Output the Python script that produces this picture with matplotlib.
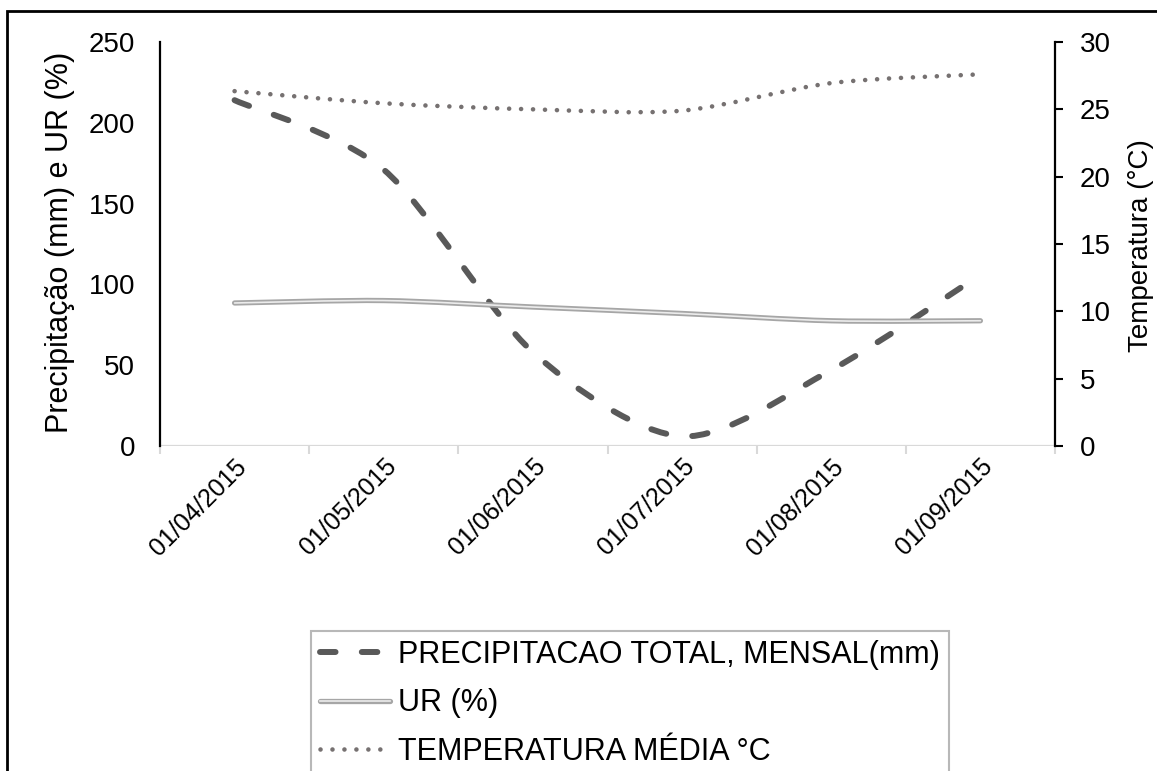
import matplotlib
matplotlib.use("Agg")
import matplotlib.pyplot as plt
import numpy as np
from matplotlib.path import Path
from matplotlib.patches import PathPatch, Rectangle
from matplotlib.lines import Line2D

plt.rcParams['font.family'] = ['Liberation Sans', 'DejaVu Sans']

# dados mensais
datas = ['01/04/2015', '01/05/2015', '01/06/2015', '01/07/2015', '01/08/2015', '01/09/2015']
precipitacao = [214, 171, 58, 6, 47, 106]        # mm
ur = [88.5, 90, 86, 82, 77.5, 77.5]                # %
temperatura = [26.35, 25.45, 25.0, 24.9, 26.95, 27.6]  # °C

cor_prec = '#595959'
cor_ur = '#a6a6a6'
cor_temp = '#767171'


def curva_suave(x, y, k=1 / 7):
    # linha suavizada (bezier passando pelos pontos)
    p = np.column_stack([x, y]).astype(float)
    n = len(p)
    verts = [p[0]]
    codes = [Path.MOVETO]
    for i in range(n - 1):
        p0 = p[i - 1] if i > 0 else p[i]
        p1 = p[i]
        p2 = p[i + 1]
        p3 = p[i + 2] if i + 2 < n else p[i + 1]
        verts += [p1 + (p2 - p0) * k, p2 - (p3 - p1) * k, p2]
        codes += [Path.CURVE4] * 3
    return Path(verts, codes)


fig = plt.figure(figsize=(11.57, 7.71), dpi=100)
ax = fig.add_axes([160 / 1157, 1 - 446 / 771, (1055 - 160) / 1157, (446 - 42) / 771])
ax2 = ax.twinx()

x = np.arange(len(datas))

# precipitacao tracejada
lw_p = 4.3
tracejado = (0, (2.6, 4.4))
ax.add_patch(PathPatch(curva_suave(x, precipitacao), fill=False, edgecolor=cor_prec, lw=lw_p,
                       linestyle=tracejado, capstyle='round', joinstyle='round'))

# UR linha dupla
ax.add_patch(PathPatch(curva_suave(x, ur), fill=False, edgecolor=cor_ur, lw=3.8,
                       capstyle='round', joinstyle='round'))
ax.add_patch(PathPatch(curva_suave(x, ur), fill=False, edgecolor='#ececec', lw=1.2,
                       capstyle='round', joinstyle='round'))

# temperatura pontilhada no eixo secundario
lw_t = 3.3
pontilhado = (0, (0.01, 2.6))
ax2.add_patch(PathPatch(curva_suave(x, temperatura), fill=False, edgecolor=cor_temp, lw=lw_t,
                        linestyle=pontilhado, capstyle='round'))

ax.set_xlim(-0.5, len(datas) - 0.5)
ax.set_ylim(0, 250)
ax2.set_ylim(0, 30)
ax.set_yticks([0, 50, 100, 150, 200, 250])
ax2.set_yticks([0, 5, 10, 15, 20, 25, 30])

ax.set_xticks(x)
ax.set_xticklabels(datas, rotation=45, ha='right', rotation_mode='anchor', fontsize=18)
ax.set_xticks(np.arange(-0.5, len(datas)), minor=True)
ax.tick_params(axis='x', which='major', length=0, pad=6)
ax.tick_params(axis='x', which='minor', length=6, width=1.5, color='#d9d9d9')
ax.tick_params(axis='y', length=0, pad=18, labelsize=20)
ax2.tick_params(axis='y', length=6, width=1.5, direction='out', pad=12, labelsize=20)

for a in (ax, ax2):
    a.spines['top'].set_visible(False)
    a.spines['bottom'].set_visible(False)
ax.spines['right'].set_visible(False)
ax.spines['left'].set_linewidth(1.6)
ax2.spines['left'].set_visible(False)
ax2.spines['right'].set_linewidth(1.6)
ax.axhline(0, color='#d9d9d9', lw=1.6, zorder=0)

fig.text(60 / 1157, 1 - 242 / 771, 'Precipitação (mm) e UR (%)', rotation=90,
         ha='center', va='center', fontsize=22)
fig.text(1141 / 1157, 1 - 246 / 771, 'Temperatura (°C)', rotation=90,
         ha='center', va='center', fontsize=20)

# legenda
handles = [
    Line2D([], [], color=cor_prec, lw=lw_p, linestyle=tracejado, dash_capstyle='round'),
    (Line2D([], [], color=cor_ur, lw=3.8, solid_capstyle='round'),
     Line2D([], [], color='#ececec', lw=1.2)),
    Line2D([], [], color=cor_temp, lw=lw_t, linestyle=pontilhado, dash_capstyle='round'),
]
labels = ['PRECIPITACAO TOTAL, MENSAL(mm)', 'UR (%)', 'TEMPERATURA MÉDIA °C']
leg = fig.legend(handles, labels, loc='upper left', bbox_to_anchor=(311 / 1157, 1 - 631 / 771),
                 fontsize=22, frameon=True, fancybox=False, borderaxespad=0, borderpad=0.3,
                 labelspacing=0.6, handlelength=2.3, handletextpad=0.25)
leg.get_frame().set_edgecolor('#a6a6a6')
leg.get_frame().set_linewidth(1.5)

# moldura externa
fig.patches.append(Rectangle((7 / 1157, -0.05), 1.2, 1 - 11 / 771 + 0.05,
                             transform=fig.transFigure, fill=False, edgecolor='black', lw=2))

plt.savefig('out.png', dpi=100)
